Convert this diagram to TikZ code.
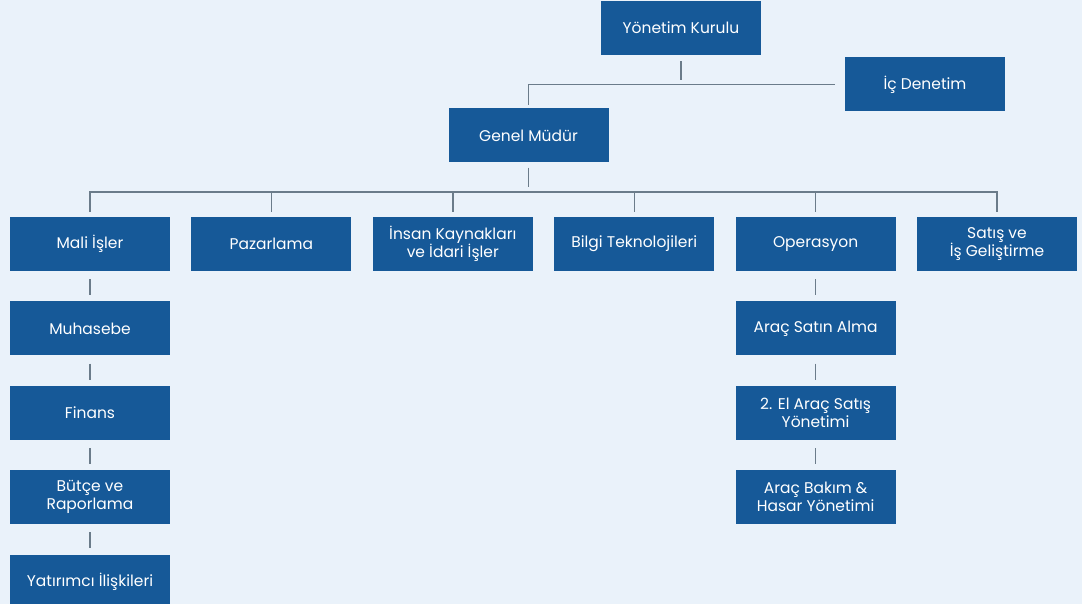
\documentclass[tikz,border=0pt]{standalone}
\usepackage{fontspec}
\setmainfont{Poppins}
\usetikzlibrary{positioning}
\definecolor{bgblue}{HTML}{EAF2FA}
\definecolor{boxblue}{HTML}{165998}
\definecolor{linegray}{HTML}{6B7C8A}
\begin{document}
\begin{tikzpicture}[x=1pt,y=1pt,node distance=21pt,
  every node/.style={fill=boxblue,text=white,minimum width=160pt,minimum height=54pt,inner sep=2pt,align=center,font=\fontsize{15.5}{18}\selectfont},
  link/.style={draw=linegray,line width=1.4pt}]
\useasboundingbox (0,0) rectangle (1082,-604);
\fill[bgblue] (0,0) rectangle (1082,-604);
  \node (yk) at (681,-28) {Yönetim Kurulu};
  \node (ic) at (925,-84.5) {İç Denetim};
  \node (gm) at (528.5,-135.5) {Genel Müdür};
  \node (mali) at (90,-244) {Mali İşler};
  \node[right =of mali](paz){Pazarlama};
  \node[right =of paz](ik){İnsan Kaynakları\\ve İdari İşler};
  \node[right =of ik](bt){Bilgi Teknolojileri};
  \node[right =of bt](ops){Operasyon};
  \node[right =of ops](satis){Satış ve\\İş Geliştirme};
\node[below =30pt of mali](muh){Muhasebe};
\node[below =30pt of muh](fin){Finans};
\node[below =30pt of fin](butce){Bütçe ve\\Raporlama};
\node[below =30pt of butce](yat){Yatırımcı İlişkileri};
\node[below =30pt of ops](arac){Araç Satın Alma};
\node[below =30pt of arac](ikinci){2. El Araç Satış\\Yönetimi};
\node[below =30pt of ikinci](bakim){Araç Bakım \&\\Hasar Yönetimi};
\coordinate (bus) at (0,-192);
  \draw[link,shorten <=6pt,shorten >=4pt](yk)--(yk|-ic);
  \draw[link,shorten <=10pt,shorten >=3pt](ic)-|(gm);
  \draw[link,shorten <=5pt,shorten >=5pt](gm)--(gm|-bus);
  \draw[link,shorten <=5pt,shorten >=5pt](mali)--(mali|-bus)-|(satis);
\foreach \n in {paz,ik,bt,ops}\draw[link,shorten <=5pt](\n)--(\n|-bus);
\foreach \a/\b in {mali/muh,muh/fin,fin/butce,butce/yat,ops/arac,arac/ikinci,ikinci/bakim}
  \draw[link,shorten <=8pt,shorten >=6pt](\a)--(\b);
  \end{tikzpicture}
\end{document}
